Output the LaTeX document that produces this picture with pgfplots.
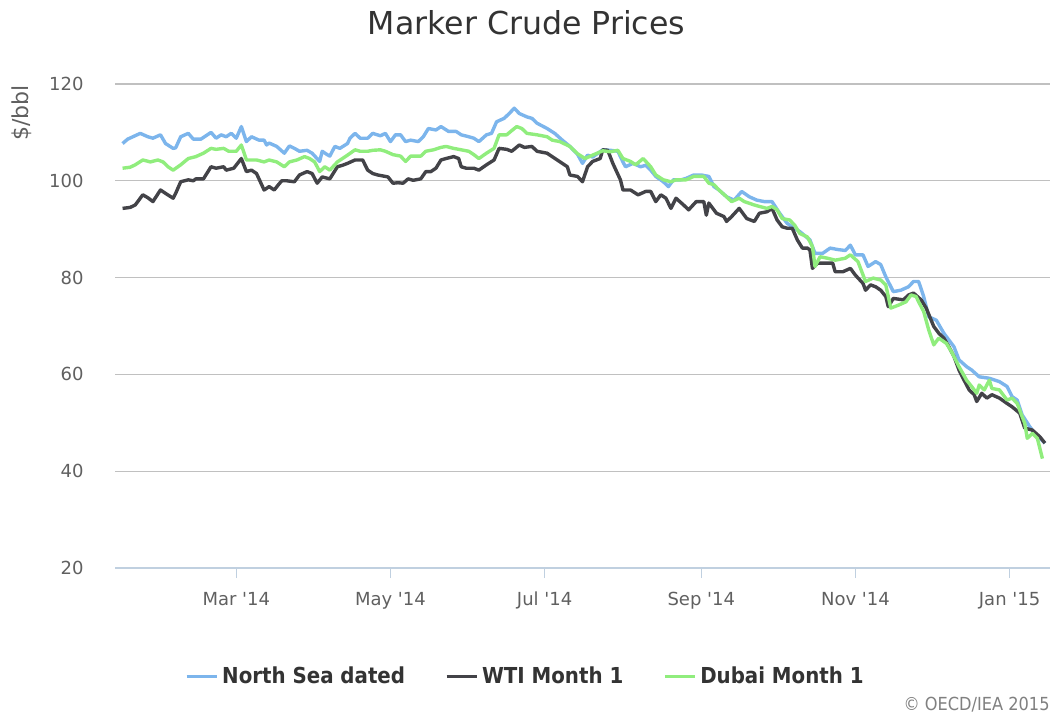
\documentclass[border=0pt]{standalone}
\usepackage{pgfplots}
\pgfplotsset{compat=1.18}
\usepackage{pgfplotstable}
\usepackage{fontspec}
\setmainfont{DejaVu Sans}
\newfontfamily\condfont{DejaVu Sans Condensed}
\definecolor{nsea}{HTML}{7CB5EC}
\definecolor{wti}{HTML}{434348}
\definecolor{dubai}{HTML}{90ED7D}
\definecolor{gridc}{HTML}{C0C0C0}
\definecolor{axisc}{HTML}{C0D0E0}
\definecolor{labc}{HTML}{606060}
\definecolor{titc}{HTML}{333333}

% day = days since 1 Jan 2014
\pgfplotstableread{
d v
14 107.7
16 108.6
21 109.8
24 109.1
26 108.8
29 109.5
31 107.7
34 106.7
35 106.8
37 109.1
40 109.8
42 108.6
45 108.6
49 110.0
51 108.8
53 109.5
55 109.1
57 109.8
59 108.8
61 111.2
63 108.1
65 109.1
68 108.4
70 108.4
71 107.4
72 107.8
75 107.1
78 105.7
80 107.2
82 106.7
84 106.1
87 106.3
89 105.7
92 104.0
93 106.1
95 105.4
96 105.1
98 107.1
100 106.7
103 107.7
104 108.8
106 109.8
108 108.8
111 108.8
113 109.8
116 109.3
118 109.8
120 108.1
122 109.5
124 109.5
126 108.1
128 108.4
131 108.1
133 109.1
135 110.8
138 110.5
140 111.2
143 110.2
146 110.2
148 109.5
151 109.1
153 108.8
155 108.1
158 109.5
160 109.8
162 112.2
165 112.9
167 113.9
169 115.0
171 113.9
174 113.2
176 112.9
178 111.9
182 110.8
185 109.8
188 108.4
191 107.1
194 105.5
196 103.6
198 105.3
200 104.9
204 106.4
207 106.3
210 106.1
212 103.9
213 102.9
216 103.6
219 102.9
221 103.2
223 102.2
225 100.9
228 99.8
230 98.8
232 100.2
235 100.2
237 100.5
240 101.2
243 101.2
246 100.9
248 98.8
250 98.1
253 96.7
256 96.0
259 97.8
262 96.7
265 96.0
268 95.7
271 95.7
274 93.3
277 91.2
279 90.5
282 89.5
285 88.2
286 87.8
288 85.0
291 85.0
294 86.1
297 85.8
300 85.6
302 86.7
304 84.7
307 84.7
309 82.3
312 83.3
314 82.7
316 80.2
319 77.1
322 77.4
325 78.1
327 79.2
329 79.2
331 76.1
333 71.9
336 71.2
339 68.5
341 67.1
343 65.7
345 63.0
348 61.6
350 60.9
353 59.5
357 59.2
361 58.5
364 57.5
366 55.4
368 54.7
370 51.6
373 49.2
375 47.8
379 45.8
}\nsea

\pgfplotstableread{
d v
14 94.3
17 94.5
19 95.0
22 97.1
24 96.5
26 95.7
29 98.1
31 97.4
34 96.4
35 97.4
37 99.8
40 100.2
42 100.0
43 100.4
46 100.4
49 102.9
51 102.6
54 102.9
55 102.2
58 102.6
61 104.6
63 101.9
65 102.2
67 101.5
70 98.1
72 98.8
74 98.1
76 99.4
77 100.0
79 100.0
82 99.8
84 101.2
87 101.9
89 101.5
91 99.5
93 100.8
96 100.4
99 102.9
101 103.2
103 103.6
106 104.3
109 104.3
111 102.2
113 101.5
115 101.2
119 100.8
121 99.5
123 99.6
125 99.5
127 100.4
129 100.1
132 100.4
134 101.9
136 101.9
138 102.6
140 104.3
142 104.6
145 105.0
147 104.6
148 102.9
150 102.6
153 102.6
155 102.2
158 103.3
161 104.3
163 106.7
166 106.5
168 106.1
171 107.4
173 106.9
176 107.1
178 106.1
182 105.7
186 104.3
188 103.6
190 102.9
191 101.2
194 100.9
196 99.8
198 102.9
200 104.0
203 104.6
204 106.4
206 106.3
208 103.6
211 100.2
212 98.1
215 98.1
218 97.1
221 97.8
223 97.8
225 95.7
227 97.1
229 96.4
231 94.3
233 96.4
236 95.0
238 94.0
241 95.7
244 95.7
245 92.9
246 95.4
249 93.3
252 92.6
253 91.6
255 92.6
258 94.3
261 92.2
264 91.6
266 93.3
269 93.6
271 94.3
273 91.9
275 90.5
277 90.2
279 90.2
281 87.8
283 86.1
285 86.1
286 85.7
287 81.9
289 83.0
292 83.0
295 83.0
296 81.2
299 81.2
302 81.9
304 80.5
307 78.8
308 77.4
310 78.5
312 78.1
314 77.4
316 76.1
317 74.0
319 75.7
323 75.4
325 76.4
327 76.8
330 75.4
332 73.7
335 69.9
337 68.5
339 67.5
341 65.7
343 63.7
345 60.9
347 58.8
349 56.8
351 55.8
352 54.4
354 56.1
356 55.1
358 55.8
361 55.1
364 54.0
366 53.3
369 52.0
371 48.9
374 48.5
377 47.1
379 45.8
}\wti

\pgfplotstableread{
d v
14 102.6
17 102.8
19 103.3
22 104.3
25 103.9
28 104.3
30 103.9
32 102.9
34 102.2
37 103.3
40 104.6
43 105.0
46 105.7
49 106.7
51 106.5
54 106.7
56 106.1
59 106.1
61 107.4
63 104.3
67 104.3
70 103.9
72 104.3
75 103.9
78 102.9
80 103.9
83 104.3
86 105.0
88 104.6
90 103.9
92 101.9
94 102.9
96 102.2
99 103.9
101 104.6
103 105.3
106 106.4
108 106.1
111 106.1
113 106.3
116 106.4
118 106.1
121 105.4
124 105.1
126 104.0
128 105.1
132 105.1
134 106.1
137 106.4
140 106.9
142 107.1
145 106.7
147 106.5
151 106.1
153 105.4
155 104.6
158 105.7
161 106.7
163 109.5
166 109.5
169 110.8
170 111.2
172 110.8
174 109.8
178 109.5
182 109.1
184 108.4
187 108.1
191 107.1
194 105.6
197 104.6
200 105.3
204 106.2
207 106.0
210 106.3
212 104.6
215 104.0
217 103.3
220 104.6
223 102.9
225 101.2
228 100.2
231 99.8
233 100.2
237 100.2
240 100.9
244 100.9
246 99.5
248 99.2
250 98.1
253 96.7
255 95.7
258 96.4
260 95.7
264 95.0
266 94.7
269 94.3
271 94.7
273 94.0
275 92.2
278 91.9
280 90.8
282 89.1
285 88.4
287 86.4
288 82.3
290 84.3
293 84.0
296 83.6
300 84.0
302 84.7
305 83.3
308 79.2
311 79.9
314 79.5
316 78.5
318 73.7
321 74.3
324 75.0
326 76.4
328 76.1
329 75.0
331 73.0
333 69.2
335 66.1
337 67.5
340 66.4
342 64.7
345 61.6
348 58.8
350 57.5
352 56.1
353 57.8
355 56.8
357 58.8
358 57.1
361 56.8
364 54.7
366 55.1
368 54.0
371 49.9
372 46.8
374 47.8
376 46.8
378 42.6
}\dubai

\begin{document}
\begin{tikzpicture}
\useasboundingbox (0,0) rectangle (526.5pt,358.5pt);
\node[anchor=base, font=\fontsize{15.8}{18}\selectfont, text=titc, inner sep=0pt] at (263.25pt,341pt) {Marker Crude Prices};
\node[anchor=center, rotate=90, font=\fontsize{11}{13}\selectfont, text=labc, inner sep=0pt] at (11pt,302pt) {\$/bbl};
\begin{axis}[
  at={(57.5pt,74.5pt)}, anchor=south west,
  width=467.5pt, height=242pt, scale only axis,
  xmin=11, xmax=381, ymin=20, ymax=120,
  axis x line*=bottom, axis y line*=left,
  x axis line style={draw=axisc, line width=0.6pt, -},
  y axis line style={draw=none},
  ytick={20,40,...,120},
  ymajorgrids, grid style={draw=gridc, line width=0.6pt},
  xtick={59,120,181,243,304,365},
  xticklabels={Mar \textquotesingle14, May \textquotesingle14, Jul \textquotesingle14, Sep \textquotesingle14, Nov \textquotesingle14, Jan \textquotesingle15},
  tick align=outside, major tick length=5pt,
  xtick style={draw=axisc, line width=0.6pt},
  ytick style={draw=none},
  /pgf/number format/assume math mode=true,
  tick label style={font=\fontsize{9}{11}\selectfont, text=labc},
  yticklabel style={anchor=east, inner sep=0pt, xshift=-10.5pt},
  xticklabel style={anchor=base, inner sep=0pt, yshift=-13.5pt},
  legend columns=3,
  legend style={at={(0.44,-0.225)}, anchor=center, draw=none, fill=none,
    font=\condfont\bfseries\fontsize{11}{13}\selectfont, text=titc,
    /tikz/every even column/.append style={column sep=18pt}},
  legend cell align=left,
  legend image code/.code={\draw[#1, line width=1.5pt] (0pt,0pt) -- (15pt,0pt);},
  every axis plot/.append style={line width=1.7pt, line join=round, mark=none},
]
\addplot[nsea] table[x=d, y=v] {\nsea};
\addlegendentry{North Sea dated}
\addplot[wti] table[x=d, y=v] {\wti};
\addlegendentry{WTI Month 1}
\addplot[dubai] table[x=d, y=v] {\dubai};
\addlegendentry{Dubai Month 1}
\end{axis}
\node[anchor=base east, font=\condfont\fontsize{9}{10}\selectfont, text=gray, inner sep=0pt] at (525pt,3.5pt) {© OECD/IEA 2015};
\end{tikzpicture}
\end{document}
